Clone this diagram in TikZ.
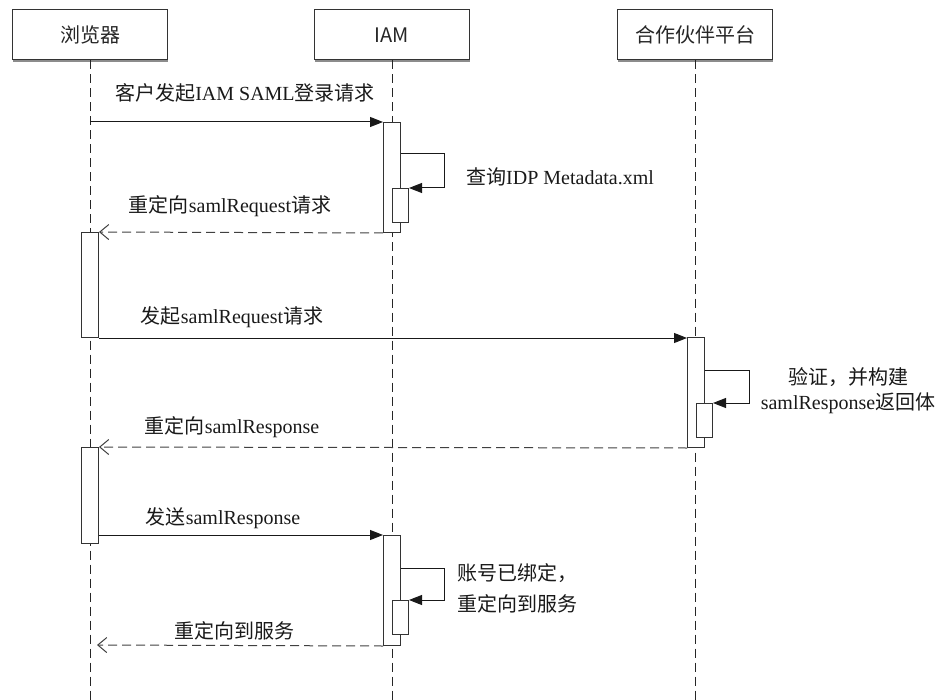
\documentclass[tikz,border=0pt]{standalone}
\usepackage{fontspec}
\setmainfont{Liberation Serif}
\newfontfamily\cjk{Noto Sans CJK SC}
\usetikzlibrary{arrows.meta,calc,shadows}
\begin{document}
\begin{tikzpicture}[x=1pt,y=-1pt,
  head/.style={draw=black!80, line width=1pt, fill=white, minimum width=155pt, minimum height=50pt, inner sep=0pt,
    font=\cjk\fontsize{20}{24}\selectfont, text=black!85,
    drop shadow={shadow xshift=0.5pt, shadow yshift=-1.6pt, fill=black!45, opacity=1}},
  life/.style={draw=black!85, line width=1pt, dash pattern=on 9pt off 5pt},
  act/.style={draw=black!80, line width=1pt, fill=white, minimum width=17pt, inner sep=0pt, anchor=north west},
  acti/.style={act, minimum width=16pt, minimum height=34pt},
  msg/.style={draw=black!90, line width=1pt, -{Triangle[length=13pt,width=10pt]}},
  ret/.style={draw=black!75, line width=1pt, dash pattern=on 9pt off 5pt, -{Straight Barb[length=9pt,width=15pt]}},
  lbl/.style={font=\fontsize{20}{24}\selectfont, text=black!90, inner sep=0pt},
]
\useasboundingbox (0,0) rectangle (941,700);

% headers
\node[head] (hB) at (90,35) {浏览器};
\node[head] (hI) at (392,35) {IAM};
\node[head] (hP) at (695,35) {合作伙伴平台};

% lifelines
\coordinate (eB) at (90,700);
\coordinate (eI) at (392,700);
\coordinate (eP) at (695,700);
\draw[life] (hB.south) -- (eB);
\draw[life] (hI.south) -- (eI);
\draw[life] (hP.south) -- (eP);

% activation boxes
\node[act, minimum height=110pt] (a1) at (383,122) {};
\node[acti] (a1i) at (392,188) {};
\node[act, minimum height=105pt] (b1) at (81,232) {};
\node[act, minimum height=110pt] (p1) at (687,337) {};
\node[acti] (p1i) at (696,403) {};
\node[act, minimum height=96pt] (b2) at (81,447) {};
\node[act, minimum height=110pt] (a2) at (383,535) {};
\node[acti] (a2i) at (392,600) {};
\coordinate (r3end) at (97,645);

% messages
\draw[msg] (a1.north west -| hB.south) -- (a1.north west);
\draw[msg] ($(a1.north east)+(0,32)$) -- ++(43,0) |- (a1i.north east);
\draw[ret] (a1.south west) -- (b1.north east);
\draw[msg] (b1.south east) -- (b1.south east -| p1.west);
\draw[msg] ($(p1.north east)+(0,33)$) -- ++(44,0) |- (p1i.north east);
\draw[ret] (p1.south west) -- (b2.north east);
\draw[msg] (a2.north west -| b2.east) -- (a2.north west);
\draw[msg] ($(a2.north east)+(0,33)$) -- ++(43,0) |- (a2i.north east);
\draw[ret] (a2.south west) -- (r3end);

% labels
\node[lbl] (l1) at (245,93) {{\cjk 客户发起}IAM SAML{\cjk 登录请求}};
\node[lbl, anchor=west] (l2) at (466,177) {{\cjk 查询}IDP Metadata.xml};
\node[lbl] (l3) at (230,206) {{\cjk 重定向}samlRequest{\cjk 请求}};
\node[lbl] (l4) at (232,317) {{\cjk 发起}samlRequest{\cjk 请求}};
\node[lbl, align=center, font=\fontsize{20}{25}\selectfont] (l5) at (848,391) {{\cjk 验证，并构建}\\samlResponse{\cjk 返回体}};
\node[lbl] (l6) at (232,427) {{\cjk 重定向}samlResponse};
\node[lbl] (l7) at (223,518) {{\cjk 发送}samlResponse};
\node[lbl, anchor=west, align=left, font=\cjk\fontsize{20}{31}\selectfont] (l8) at (457,588) {账号已绑定，\\重定向到服务};
\node[lbl, font=\cjk\fontsize{20}{24}\selectfont] (l9) at (234,631) {重定向到服务};
\end{tikzpicture}
\end{document}
